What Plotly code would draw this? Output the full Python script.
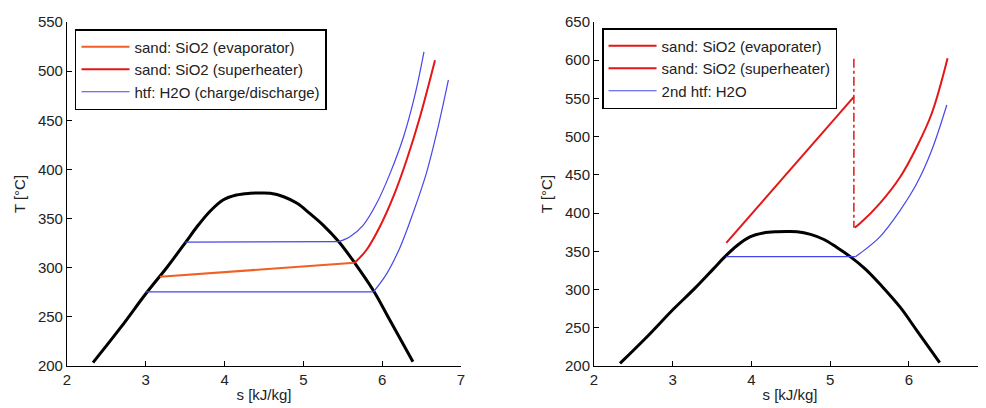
import plotly.graph_objects as go

# Saturation dome (water)
dome_s = [2.33, 2.68, 3.01, 3.27, 3.51, 3.65, 3.81, 3.98, 4.15, 4.32, 4.45, 4.58, 4.75, 4.92, 5.08, 5.25, 5.45, 5.65, 5.89, 6.10, 6.39]
dome_T = [203.4, 239, 274.5, 300.5, 326.4, 341.7, 357, 368.9, 374, 375.7, 376, 375.7, 372.2, 365.5, 355.3, 343.4, 326.4, 305, 276.6, 246.3, 204.4]

# Left chart
L_htf_low_s = [3.00, 5.89, 6.06, 6.23, 6.39, 6.56, 6.71, 6.84]
L_htf_low_T = [275.5, 275.5, 294.3, 321.4, 355.3, 396, 443.4, 491]
L_htf_high_s = [3.50, 5.45, 5.59, 5.76, 5.93, 6.10, 6.27, 6.42, 6.53]
L_htf_high_T = [326, 326.5, 331.5, 343.4, 365.5, 396, 433, 477.4, 519.7]
L_evap_s = [3.18, 5.65]
L_evap_T = [290.8, 305]
L_sup_s = [5.65, 5.80, 5.97, 6.14, 6.31, 6.48, 6.67]
L_sup_T = [305, 318, 341.7, 372, 409.6, 453.6, 511]

# Right chart
R_htf_s = [3.68, 5.32, 5.38, 5.63, 5.89, 6.10, 6.29, 6.48]
R_htf_T = [343, 343, 347.4, 369, 404, 439, 482.6, 541.4]
R_evap_s = [3.68, 5.30]
R_evap_T = [361, 552]
R_jump_s = [5.30, 5.30]
R_jump_T = [602, 381]
R_sup_s = [5.31, 5.38, 5.63, 5.89, 6.10, 6.29, 6.49]
R_sup_T = [381, 386.7, 412.8, 447.6, 486.9, 530.6, 602.5]

ORANGE = "rgb(240,95,35)"
RED = "rgb(228,22,22)"
BLUE = "rgb(70,70,235)"
BLACK = "black"

fig = go.Figure()


def add(xs, ys, color, width, xa, ya, name=None, legend=None, spline=False, dash=None):
    fig.add_trace(go.Scatter(
        x=xs, y=ys, mode="lines",
        line=dict(color=color, width=width, shape="spline" if spline else "linear",
                  smoothing=1.0, dash=dash),
        name=name, showlegend=name is not None, legend=legend or "legend",
        xaxis=xa, yaxis=ya, hoverinfo="x+y"))


def add_isobar(xs, ys, color, width, xa, ya, name=None, legend=None):
    # flat evaporation part (linear) + superheated part (smooth)
    add(xs[1:], ys[1:], color, width, xa, ya, spline=True)
    add(xs[:2], ys[:2], color, width, xa, ya, name=name, legend=legend)


# left
add(dome_s, dome_T, BLACK, 3, "x", "y", spline=True)
add(L_evap_s, L_evap_T, ORANGE, 2, "x", "y", name="sand: SiO2 (evaporator)", legend="legend")
add(L_sup_s, L_sup_T, RED, 2, "x", "y", name="sand: SiO2 (superheater)", legend="legend", spline=True)
add_isobar(L_htf_high_s, L_htf_high_T, BLUE, 1.2, "x", "y", name="htf: H2O (charge/discharge)", legend="legend")
add_isobar(L_htf_low_s, L_htf_low_T, BLUE, 1.2, "x", "y")

# right
add(dome_s, dome_T, BLACK, 3, "x2", "y2", spline=True)
add(R_evap_s, R_evap_T, RED, 2, "x2", "y2", name="sand: SiO2 (evaporater)", legend="legend2")
add(R_sup_s, R_sup_T, RED, 2, "x2", "y2", name="sand: SiO2 (superheater)", legend="legend2", spline=True)
add(R_jump_s, R_jump_T, RED, 1.5, "x2", "y2", dash="dashdot")
add_isobar(R_htf_s, R_htf_T, BLUE, 1.2, "x2", "y2", name="2nd htf: H2O", legend="legend2")

axis_common = dict(showline=True, linecolor="black", linewidth=1, ticks="inside", ticklen=5,
                   tickcolor="black", showgrid=False, zeroline=False, mirror=False,
                   automargin=False, tickfont=dict(size=15, color="#222"))

legend_common = dict(bgcolor="white", bordercolor="black", borderwidth=1.5,
                     font=dict(size=15, color="#222"), xanchor="left", yanchor="top",
                     itemwidth=48, tracegroupgap=0, traceorder="normal")

fig.update_layout(
    template="none",
    width=978, height=400,
    margin=dict(l=0, r=0, t=0, b=0),
    paper_bgcolor="white", plot_bgcolor="white",
    font=dict(family="Liberation Sans, Arial, sans-serif", color="#222"),
    xaxis=dict(domain=[0.0603, 0.4632], range=[2, 7], tickvals=[2, 3, 4, 5, 6, 7],
               title=dict(text="s [kJ/kg]", font=dict(size=15), standoff=2), anchor="y", **axis_common),
    yaxis=dict(domain=[0.105, 0.965], range=[200, 550], tickvals=list(range(200, 551, 50)),
               title=dict(text="T [°C]", font=dict(size=15), standoff=8), anchor="x", **axis_common),
    xaxis2=dict(domain=[0.5992, 1.0], range=[2, 6.978], tickvals=[2, 3, 4, 5, 6],
                title=dict(text="s [kJ/kg]", font=dict(size=15), standoff=2), anchor="y2", **axis_common),
    yaxis2=dict(domain=[0.105, 0.965], range=[200, 650], tickvals=list(range(200, 651, 50)),
                title=dict(text="T [°C]", font=dict(size=15), standoff=8), anchor="x2", **axis_common),
    legend=dict(x=0.0685, y=0.9475, **legend_common),
    legend2=dict(x=0.6074, y=0.95, **legend_common),
)

fig.write_html("out.html")
